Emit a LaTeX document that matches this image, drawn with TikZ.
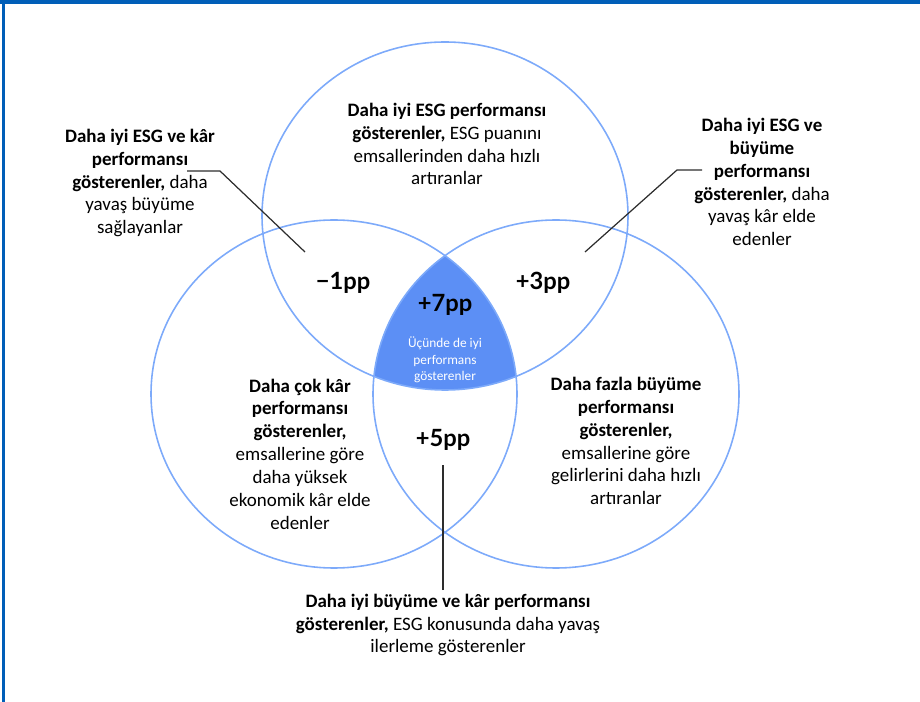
\documentclass[tikz,border=0pt]{standalone}
\usepackage{fontspec}
\setmainfont{Carlito}
\newfontfamily\numfont{Lato}
\usetikzlibrary{positioning}

\definecolor{frameblue}{RGB}{0,94,184}
\definecolor{ringblue}{RGB}{125,170,250}
\definecolor{coreblue}{RGB}{92,143,245}
\definecolor{leadgray}{RGB}{45,45,45}

\begin{document}
\begin{tikzpicture}[x=0.02cm,y=-0.02cm,
  ring/.style={draw=ringblue,line width=0.9pt},
  note/.style={align=center,inner sep=0pt,font=\fontsize{10.8}{13}\selectfont},
  score/.style={inner sep=0pt,font=\numfont\bfseries\fontsize{13.5}{15}\selectfont},
  small/.style={align=center,inner sep=0pt,text=white,font=\fontsize{7.6}{9.4}\selectfont},
  leader/.style={draw=leadgray,line width=0.7pt}]
\useasboundingbox (0,0) rectangle (920,702);
% frame
\fill[frameblue] (0,0) rectangle (920,4);
\fill[frameblue] (2,0) rectangle (5,702);

% centres of the three circles
\coordinate (esg) at (445,216);
\coordinate (kar) at (334,394);
\coordinate (buy) at (556,394);

% common core
\begin{scope}
  \clip (esg) ellipse [x radius=183, y radius=174];
  \clip (kar) ellipse [x radius=183, y radius=174];
  \fill[coreblue] (buy) ellipse [x radius=183, y radius=174];
\end{scope}
\foreach \c in {esg,kar,buy} {
  \draw[ring] (\c) ellipse [x radius=183, y radius=174];
}

% texts
\node[note] (tEsg) at (447,144) {\textbf{Daha iyi ESG performansı}\\\textbf{gösterenler,} ESG puanını\\emsallerinden daha hızlı\\artıranlar};
\node[note] (tEsgKar) at (140,183) {\textbf{Daha iyi ESG ve kâr}\\\textbf{performansı}\\\textbf{gösterenler,} daha\\yavaş büyüme\\sağlayanlar};
\node[note] (tEsgBuy) at (762,182) {\textbf{Daha iyi ESG ve}\\\textbf{büyüme}\\\textbf{performansı}\\\textbf{gösterenler,} daha\\yavaş kâr elde\\edenler};
\node[note] (tKar) at (300,454) {\textbf{Daha çok kâr}\\\textbf{performansı}\\\textbf{gösterenler,}\\emsallerine göre\\daha yüksek\\ekonomik kâr elde\\edenler};
\node[note] (tBuy) at (626,441) {\textbf{Daha fazla büyüme}\\\textbf{performansı}\\\textbf{gösterenler,}\\emsallerine göre\\gelirlerini daha hızlı\\artıranlar};
\node[note] (tBuyKar) at (448,625) {\textbf{Daha iyi büyüme ve kâr performansı}\\\textbf{gösterenler,} ESG konusunda daha yavaş\\ilerleme gösterenler};

% scores
\node[score] (m1) at (343,283) {−1pp};
\node[score] (p3) at (543,283) {+3pp};
\node[score] (p7) at (445,305) {+7pp};
\node[score] (p5) at (443,440) {+5pp};
\node[small] (tCore) at (445,360) {Üçünde de iyi\\performans\\gösterenler};

% leaders
\coordinate (lEsgKar) at (187,171);
\coordinate (eEsgKar) at (305,252);
\coordinate (lEsgBuy) at (702,170);
\coordinate (eEsgBuy) at (585,252);
\coordinate (lBuyKar) at (443,590);
\coordinate (eBuyKar) at (443,465);
\draw[leader] (lEsgKar) -- ++(33,0) -- (eEsgKar);
\draw[leader] (lEsgBuy) -- ++(-25,0) -- (eEsgBuy);
\draw[leader] (lBuyKar) -- (eBuyKar);
\end{tikzpicture}
\end{document}
